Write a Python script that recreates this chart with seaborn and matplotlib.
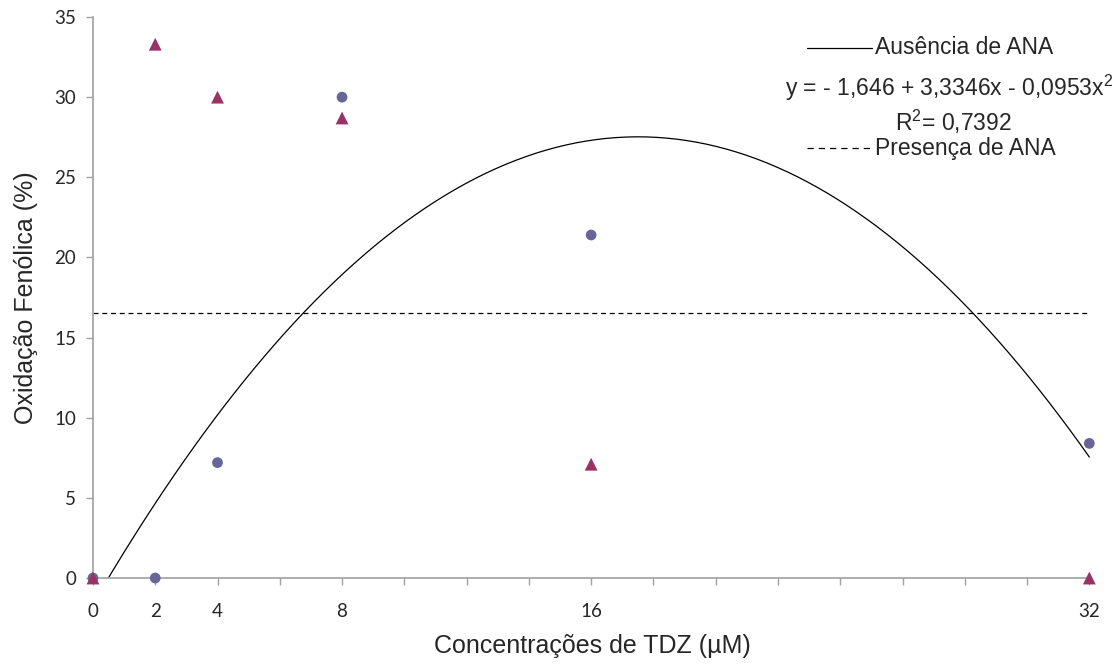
import numpy as np
import pandas as pd
import matplotlib.pyplot as plt
import seaborn as sns
from matplotlib.lines import Line2D

# data
tdz = [0, 2, 4, 8, 16, 32]
ausencia = [0, 0, 7.2, 30.0, 21.4, 8.4]      # circles, fitted with quadratic
presenca = [0, 33.3, 30.0, 28.7, 7.1, 0]     # triangles, shown by their mean
tick_labels = ['0', '2', '4', '8', '16', '32']

df = pd.DataFrame({'tdz': tdz, 'ausencia': ausencia, 'presenca': presenca})

sns.set_style('white')
plt.rcParams['font.family'] = ['Liberation Sans', 'DejaVu Sans']
plt.rcParams['mathtext.fontset'] = 'custom'
plt.rcParams['mathtext.rm'] = 'Liberation Sans'
plt.rcParams['mathtext.it'] = 'Liberation Sans'

fig = plt.figure(figsize=(11.2, 6.67), dpi=100)
ax = fig.add_axes([0.083, 0.1334, 0.891, 0.8411])

# quadratic fit for "Ausência de ANA"
sns.regplot(data=df, x='tdz', y='ausencia', order=2, ci=None, scatter=False,
            line_kws={'color': 'black', 'lw': 0.9}, ax=ax)
# mean line for "Presença de ANA"
ax.axhline(np.mean(presenca), color='black', lw=0.9, ls=(0, (4, 3)))

sns.scatterplot(data=df, x='tdz', y='ausencia', marker='o', color='#666699',
                s=60, edgecolor='none', ax=ax, clip_on=False, zorder=3)
sns.scatterplot(data=df, x='tdz', y='presenca', marker='^', color='#993366',
                s=85, edgecolor='none', ax=ax, clip_on=False, zorder=4)

ax.set_xlim(0, 32.05)
ax.set_ylim(0, 35)
ax.set_xticks(tdz)
ax.set_xticklabels(tick_labels, family='Lato', fontsize=13.5)
ax.set_xticks(np.arange(0, 33, 2), minor=True)
ax.set_yticks(np.arange(0, 36, 5))
ax.set_yticklabels([str(v) for v in range(0, 36, 5)], family='Lato', fontsize=13.5)
ax.tick_params(axis='both', which='both', direction='out', length=5,
               color='#a0a0a0', width=1, bottom=True, left=True)
ax.tick_params(axis='x', which='major', pad=13)
ax.tick_params(axis='y', pad=7)

for side in ['top', 'right']:
    ax.spines[side].set_visible(False)
for side in ['left', 'bottom']:
    ax.spines[side].set_color('#a0a0a0')
    ax.spines[side].set_linewidth(1.2)

ax.set_xlabel('Concentrações de TDZ (µM)', fontsize=18, labelpad=10)
ax.set_ylabel('Oxidação Fenólica (%)', fontsize=18, labelpad=12)

# legend block with equation
fig.add_artist(Line2D([807 / 1120, 872 / 1120], [1 - 48 / 667, 1 - 48 / 667],
                      color='black', lw=0.9))
fig.text(875 / 1120, 1 - 48 / 667, 'Ausência de ANA', fontsize=16.5, va='center')
fig.text(949 / 1120, 1 - 88 / 667, 'y = - 1,646 + 3,3346x - 0,0953x$^2$',
         fontsize=16.5, va='center', ha='center')
fig.text(953 / 1120, 1 - 122 / 667, 'R$^2$= 0,7392', fontsize=16.5,
         va='center', ha='center')
fig.add_artist(Line2D([807 / 1120, 872 / 1120], [1 - 148 / 667, 1 - 148 / 667],
                      color='black', lw=0.9, ls=(0, (5, 4))))
fig.text(875 / 1120, 1 - 148 / 667, 'Presença de ANA', fontsize=16.5, va='center')

plt.savefig('out.png', dpi=100)
plt.close()
